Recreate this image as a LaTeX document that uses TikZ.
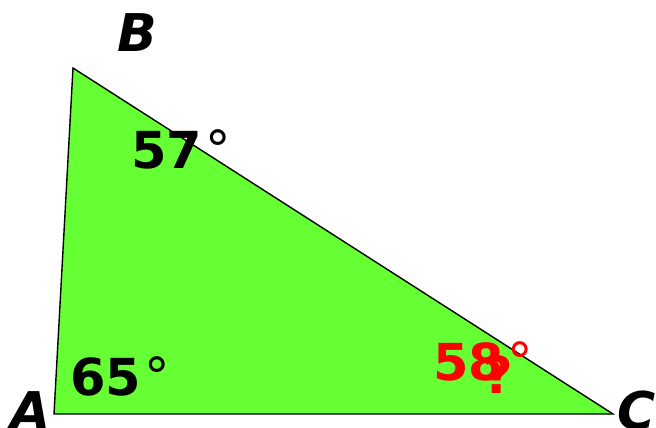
\documentclass[tikz,border=0pt]{standalone}
\usepackage{fontspec}
\setmainfont{DejaVu Sans}
\usepackage{xcolor}
\usepackage{tikz}
\usetikzlibrary{positioning}
\definecolor{trigreen}{HTML}{66FF33}
\definecolor{trired}{HTML}{FF0000}
\newcommand{\degsign}{\kern3pt\raisebox{1pt}{\mdseries\char"00B0}}

\begin{document}
\begin{tikzpicture}[x=1pt, y=-1pt,
  vlabel/.style={font=\fontsize{52}{52}\selectfont\bfseries\itshape, inner sep=0pt, anchor=base},
  angle/.style={font=\fontsize{51}{51}\selectfont\bfseries, inner sep=0pt, anchor=base west},
  edge/.style={draw=black, line width=1.4pt, line join=miter, fill=trigreen}]
  \useasboundingbox (0,0) rectangle (656,428);
  \coordinate (A) at (54,414);
  \coordinate (B) at (73,68);
  \coordinate (C) at (613,414);
  \draw[edge] (A) -- (B) -- (C) -- cycle;
  \node[vlabel] (lA) at (31,429) {A};
  \node[vlabel] (lB) at (137,52) {B};
  \node[vlabel] (lC) at (637,429) {C};
  \node[angle] (aA) at (70,395) {65\degsign};
  \node[angle] (aB) at (131,168) {57\degsign};
  \node[angle, text=trired] (aC) at (433,380) {58\degsign};
  \node[angle, text=trired] (q) at (483,393) {?};
\end{tikzpicture}
\end{document}
